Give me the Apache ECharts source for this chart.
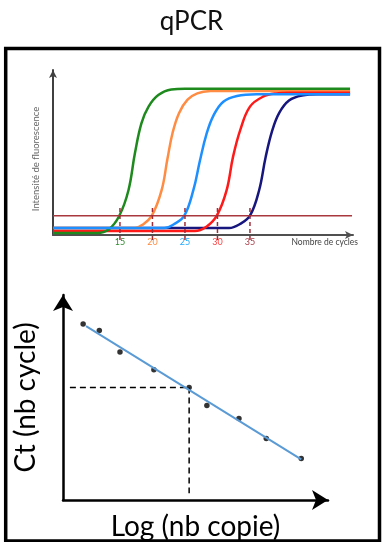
<!DOCTYPE html>
<html>
<head>
<meta charset="utf-8">
<title>qPCR</title>
<script src="https://cdn.jsdelivr.net/npm/echarts@6/dist/echarts.min.js"></script>
<style>
    html, body { margin: 0; padding: 0; background: #fff; }
    #qpcrChart { width: 383px; height: 542px; }
</style>
</head>
<body>
<div id="qpcrChart"></div>
<script>
// courbes d'amplification (cycle, fluorescence)
var curveGreen = [[4.7, 1.2], [11.5, 1.2], [13.3, 3.5], [14.9, 11.7], [16.3, 27], [17.3, 49.5], [18.3, 67.7], [19.4, 77.8], [20.9, 84.8], [22.9, 88.2], [25, 88.7], [50.4, 88.7]];
var curveOrange = [[4.7, 4.2], [17.3, 4.2], [18.4, 6], [19.9, 11.7], [21.4, 27], [22.3, 46], [23.1, 62], [24.1, 74], [25.4, 82], [26.9, 85.8], [28.9, 87.2], [31, 87.3], [50.4, 87.3]];
var curveBlue = [[4.7, 4.2], [21.8, 4.2], [23.3, 6.5], [24.9, 11.7], [26.3, 27.3], [27.3, 45], [28.3, 61], [29.4, 72.5], [30.9, 80.8], [33, 84.3], [36, 85.3], [50.4, 85.3]];
var curveRed = [[4.7, 2.4], [26.5, 2.4], [28.3, 5], [29.9, 11.7], [31.4, 27], [32.4, 47.5], [33.5, 63.6], [35, 77.8], [37, 83.8], [39, 85.8], [41, 86.2], [50.4, 86.2]];
var curveNavy = [[4.7, 4.2], [31.8, 4.2], [33.4, 6.5], [35, 11.7], [36.4, 27], [37.4, 47], [38.4, 63], [39.5, 74], [41, 81.5], [43, 84.6], [45.5, 85.3], [50.4, 85.3]];
var threshold = 11.7;
var thresholdRange = [4.7, 50.7];
var ctValues = [15, 20, 25, 30, 35];
var ctMarkRange = [-3, 17.6];

// droite d'etalonnage
var logCopies = [0.76, 1.37, 2.15, 3.43, 4.76, 5.43, 6.64, 7.67, 8.99];
var ctCycles = [8.58, 8.27, 7.22, 6.35, 5.49, 4.61, 3.98, 3.00, 2.03];
var fitX = [0.87, 8.99];
var fitY = [8.48, 1.98];
var readX = [0.26, 4.76];
var readY = [5.49, 0.33];

var FONT = 'Lato';
var markColors = ['#2E8B2E', '#FF8C42', '#22AAFF', '#FF4545', '#A8404C'];

function pairs(xs, ys) {
    return xs.map(function(x, i) { return [x, ys[i]]; });
}

function curveSeries(name, data, color) {
    return {
        name: name,
        type: 'line',
        data: data,
        smooth: 0.4,
        showSymbol: false,
        silent: true,
        lineStyle: { color: color, width: 2.5 }
    };
}

function dashedSeries(data, color, dash, grid) {
    return {
        type: 'line',
        xAxisIndex: grid,
        yAxisIndex: grid,
        data: data,
        showSymbol: false,
        silent: true,
        clip: false,
        lineStyle: { color: color, width: 1.5, type: dash }
    };
}

function initChart() {
    var myChart = echarts.init(document.getElementById('qpcrChart'));

    var series = [
        curveSeries('35', curveNavy, '#16167E'),
        curveSeries('20', curveOrange, '#FF8C42'),
        curveSeries('30', curveRed, '#FF1A1A'),
        curveSeries('15', curveGreen, '#1E8A1E'),
        curveSeries('25', curveBlue, '#1E8FFF'),
        {
            // seuil
            type: 'line',
            data: [[thresholdRange[0], threshold], [thresholdRange[1], threshold]],
            showSymbol: false,
            silent: true,
            lineStyle: { color: '#A8383E', width: 1.5 }
        }
    ];

    // tirets verticaux des Ct
    ctValues.forEach(function(ct) {
        series.push(dashedSeries([[ct, ctMarkRange[0]], [ct, ctMarkRange[1]]], '#A02C38', [4, 3], 0));
    });

    // pointilles de lecture + droite
    series.push(dashedSeries([[readX[0], readY[0]], [readX[1], readY[0]]], '#000', [6, 4], 1));
    series.push(dashedSeries([[readX[1], readY[0]], [readX[1], readY[1]]], '#000', [6, 4], 1));
    series.push({
        type: 'line',
        xAxisIndex: 1,
        yAxisIndex: 1,
        data: pairs(fitX, fitY),
        showSymbol: false,
        silent: true,
        lineStyle: { color: '#5B9BD5', width: 2 }
    });
    series.push({
        type: 'scatter',
        xAxisIndex: 1,
        yAxisIndex: 1,
        data: pairs(logCopies, ctCycles),
        symbolSize: 5.5,
        itemStyle: { color: '#000' }
    });

    var option = {
        animation: false,
        textStyle: { fontFamily: FONT },
        title: {
            text: 'qPCR',
            left: 'center',
            top: 4,
            textStyle: { fontFamily: FONT, fontSize: 26, fontWeight: 'normal', color: '#111' }
        },
        graphic: [{
            type: 'rect',
            shape: { x: 5.7, y: 48.5, width: 373.8, height: 492.5 },
            style: { fill: 'none', stroke: '#000', lineWidth: 3.5 }
        }],
        grid: [
            { left: 53, right: 30, top: 70, bottom: 307 },
            { left: 63, right: 55, top: 295, bottom: 35 }
        ],
        xAxis: [{
            gridIndex: 0,
            type: 'value',
            min: 4.7,
            max: 50.85,
            name: 'Nombre de cycles',
            nameLocation: 'end',
            nameGap: 5,
            nameTextStyle: { fontFamily: FONT, fontSize: 8.5, color: '#444', align: 'right', verticalAlign: 'top', padding: [3, 0, 0, 0] },
            axisLine: { lineStyle: { color: '#505050', width: 2 }, symbol: ['none', 'arrow'], symbolSize: [6, 8] },
            axisTick: { show: false },
            splitLine: { show: false },
            axisLabel: {
                customValues: ctValues,
                margin: 3,
                fontSize: 9,
                fontFamily: FONT,
                color: function(value) {
                    return markColors[ctValues.indexOf(Number(value))] || '#444';
                }
            }
        }, {
            gridIndex: 1,
            type: 'value',
            min: 0,
            max: 10,
            name: 'Log (nb copie)',
            nameLocation: 'middle',
            nameGap: 13,
            nameTextStyle: { fontFamily: FONT, fontSize: 28, color: '#000', verticalAlign: 'top' },
            axisLine: { lineStyle: { color: '#000', width: 2.5 }, symbol: ['none', 'arrow'], symbolSize: [15, 16] },
            axisTick: { show: false },
            axisLabel: { show: false },
            splitLine: { show: false }
        }],
        yAxis: [{
            gridIndex: 0,
            type: 'value',
            min: 0,
            max: 100,
            name: 'Intensité de fluorescence',
            nameLocation: 'middle',
            nameGap: 12,
            nameTextStyle: { fontFamily: FONT, fontSize: 9.5, color: '#666', padding: [0, 13, 0, 0] },
            axisLine: { show: true, lineStyle: { color: '#404040', width: 2 }, symbol: ['none', 'arrow'], symbolSize: [6, 8] },
            axisTick: { show: false },
            axisLabel: { show: false },
            splitLine: { show: false }
        }, {
            gridIndex: 1,
            type: 'value',
            min: 0,
            max: 10,
            name: 'Ct (nb cycle)',
            nameLocation: 'middle',
            nameGap: 23,
            nameTextStyle: { fontFamily: FONT, fontSize: 28, color: '#000' },
            axisLine: { show: true, lineStyle: { color: '#000', width: 2.5 }, symbol: ['none', 'arrow'], symbolSize: [15, 16] },
            axisTick: { show: false },
            axisLabel: { show: false },
            splitLine: { show: false }
        }],
        series: series
    };
    myChart.setOption(option);
}

initChart();
</script>
</body>
</html>
